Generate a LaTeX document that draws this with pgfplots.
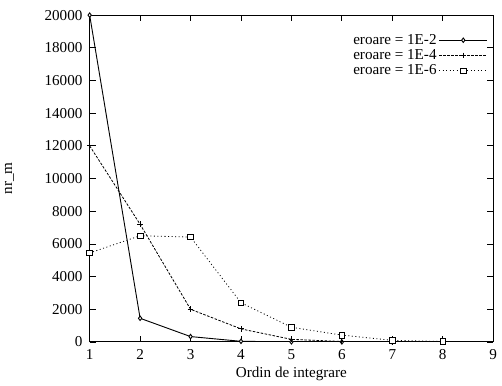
\documentclass[border=0pt]{standalone}
\usepackage{pgfplots}
\pgfplotsset{compat=1.18}
\usepackage{fontspec}
\setmainfont{Liberation Serif}
\begin{document}
\fontsize{15}{17}\selectfont
\begin{tikzpicture}
\begin{axis}[
  scale only axis,
  width=400pt, height=324pt,
  xmin=1, xmax=9, ymin=0, ymax=20000,
  xtick={1,2,...,9},
  ytick={0,2000,...,20000},
  scaled ticks=false,
  /pgf/number format/assume math mode=true,
  /pgf/number format/set thousands separator={},
  tick align=inside,
  major tick length=6pt,
  tick style={black, line width=0.8pt},
  axis line style={line width=1pt},
  xlabel={Ordin de integrare},
  ylabel={nr\_m},
  xlabel style={yshift=3pt},
  ylabel style={yshift=20pt},
  yticklabel style={xshift=-2pt},
  xticklabel style={yshift=-2pt},
  every tick label/.append style={font=\fontsize{15}{17}\selectfont},
  label style={font=\fontsize{15}{17}\selectfont},
  legend plot pos=right,
  legend cell align=right,
  legend image code/.code={\draw[mark repeat=2,mark phase=2,#1] plot coordinates {(0pt,0pt) (24pt,0pt) (48pt,0pt)};},
  legend style={draw=none, fill=none, at={(0.995,0.955)}, anchor=north east,
    font=\fontsize{15}{17}\selectfont, row sep=-1pt,
    /tikz/every even column/.append style={column sep=10pt}},
]
\addplot[black, line width=0.9pt, mark=diamond*, mark size=2.2pt, mark options={solid, fill=white}]
  coordinates {(1,20000) (2,1450) (3,330) (4,40) (5,10) (6,3) (7,1) (8,0)};
\addlegendentry{eroare = 1E-2}
\addplot[black, line width=0.8pt, dash pattern=on 2.5pt off 1.5pt, mark=+, mark size=2.8pt, mark options={solid}]
  coordinates {(1,12000) (2,7200) (3,2000) (4,800) (5,160) (6,30) (7,8) (8,2)};
\addlegendentry{eroare = 1E-4}
\addplot[black, line width=0.8pt, dash pattern=on 1pt off 2.5pt, mark=square*, mark size=2.8pt, mark options={solid, fill=white}]
  coordinates {(1,5450) (2,6500) (3,6420) (4,2400) (5,900) (6,420) (7,100) (8,30)};
\addlegendentry{eroare = 1E-6}
\end{axis}
\path (current axis.north west) ++(0,15pt);
\end{tikzpicture}
\end{document}
